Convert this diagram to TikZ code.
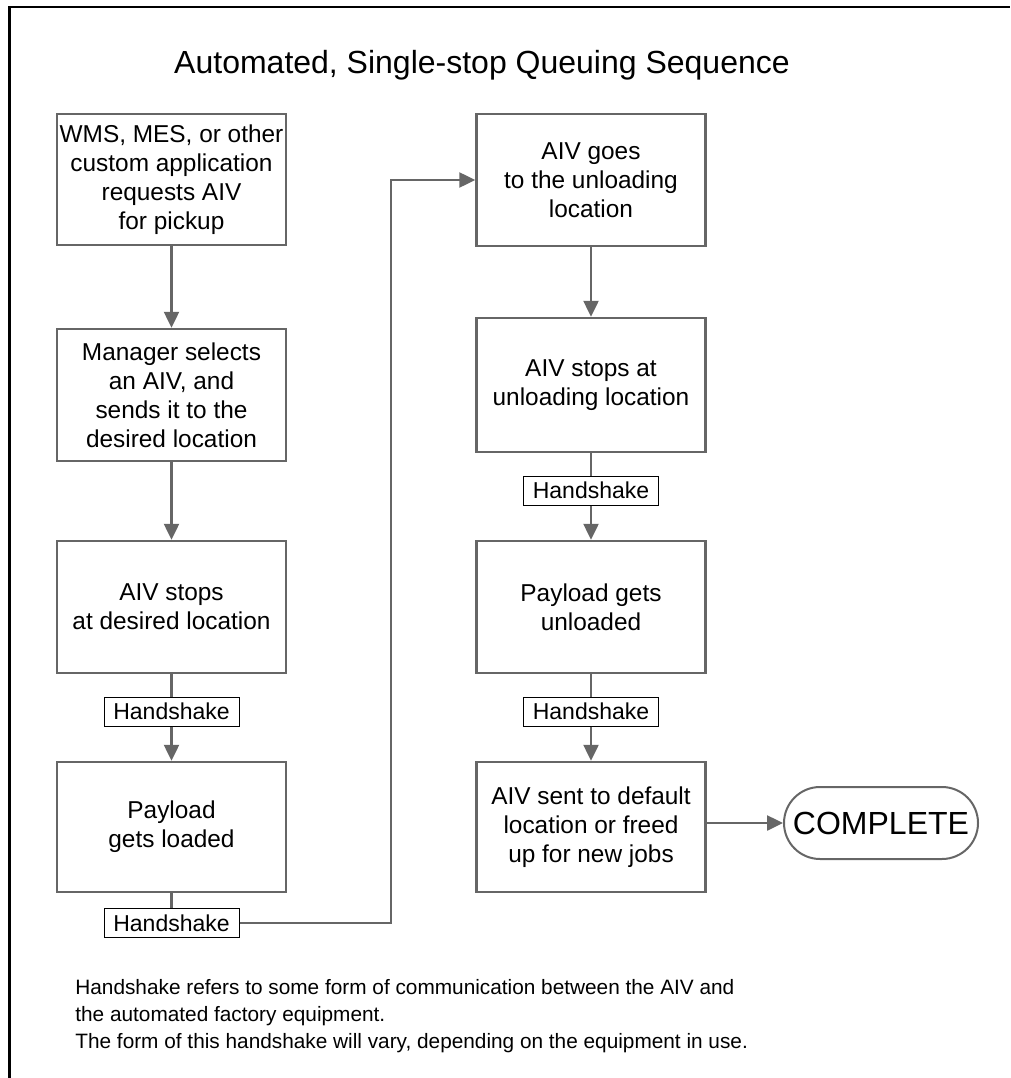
\documentclass[tikz,border=0pt]{standalone}
\usepackage{fontspec}
\setmainfont{Liberation Sans}
\usetikzlibrary{arrows.meta}

\definecolor{boxgray}{RGB}{102,102,102}
\tikzset{every picture/.style={line width=0.75pt}}
\tikzset{
  stepbox/.style={draw=boxgray, line width=2.5pt, minimum width=229pt, inner sep=2pt,
    align=center, font=\fontsize{24.4}{29}\selectfont},
  shakebox/.style={draw=black, line width=1pt, fill=white, minimum width=135pt,
    minimum height=29pt, inner sep=1pt, font=\fontsize{23}{26}\selectfont},
  flow/.style={draw=boxgray, line width=2.5pt, -{Triangle[length=16pt,width=15pt]}},
  link/.style={draw=boxgray, line width=2.5pt},
}

\begin{document}
\begin{tikzpicture}[x=1pt,y=-1pt]
\useasboundingbox (0,0) rectangle (1010,1078);

%Frame
\draw [black, line width=2.5pt] (9.5,1078) -- (9.5,7) -- (1010,7);

% Text Node
\node (title) at (482,65) [font=\fontsize{32}{36}\selectfont] {Automated, Single-stop Queuing Sequence};

%Left column
\node (req)    at (171.5,179.5) [stepbox, minimum height=131pt] {WMS, MES, or other\\custom application\\requests AIV\\ for pickup};
\node (select) at (171.5,395)   [stepbox, minimum height=132pt] {Manager selects\\an AIV, and\\sends it to the\\desired location};
\node (stopA)  at (171.5,607)   [stepbox, minimum height=132pt] {AIV stops\\at desired location};
\node (shakeA) at (171.5,711.5) [shakebox] {Handshake};
\node (load)   at (171.5,827)   [stepbox, minimum height=130pt] {Payload\\gets loaded};
\node (shakeB) at (171.5,923)   [shakebox] {Handshake};
\coordinate (turn) at (391,180);

%Right column
\node (goes)   at (591,180)   [stepbox, minimum height=132pt] {AIV goes\\to the unloading\\location};
\node (stopB)  at (591,385)   [stepbox, minimum height=134pt] {AIV stops at\\unloading location};
\node (shakeC) at (591,490.5) [shakebox] {Handshake};
\node (unload) at (591,607)   [stepbox, minimum height=132pt] {Payload gets\\unloaded};
\node (shakeD) at (591,711.5) [shakebox] {Handshake};
\node (free)   at (591,827)   [stepbox, minimum height=130pt] {AIV sent to default\\location or freed\\up for new jobs};
\node (done)   at (881,823)   [draw=boxgray, line width=2pt, rounded corners=36pt, minimum width=194pt,
  minimum height=72pt, inner sep=0pt, font=\fontsize{32}{36}\selectfont] {COMPLETE};

%Connectors
\draw [flow] (req) -- (select);
\draw [flow] (select) -- (stopA);
\draw [link] (stopA) -- (shakeA);
\draw [flow] (shakeA) -- (load);
\draw [link] (load) -- (shakeB);
\draw [flow] (shakeB.east) -| (turn) -- (goes.west);
\draw [flow] (goes) -- (stopB);
\draw [link] (stopB) -- (shakeC);
\draw [flow] (shakeC) -- (unload);
\draw [link] (unload) -- (shakeD);
\draw [flow] (shakeD) -- (free);
\draw [flow] (free.east |- done.west) -- (done.west);

% Text Node
\node (note) at (75,979) [anchor=north west, inner sep=0pt, align=left, font=\fontsize{20.8}{27}\selectfont]
  {Handshake refers to some form of communication between the AIV and\\the automated factory equipment.\\The form of this handshake will vary, depending on the equipment in use.};

\end{tikzpicture}
\end{document}
